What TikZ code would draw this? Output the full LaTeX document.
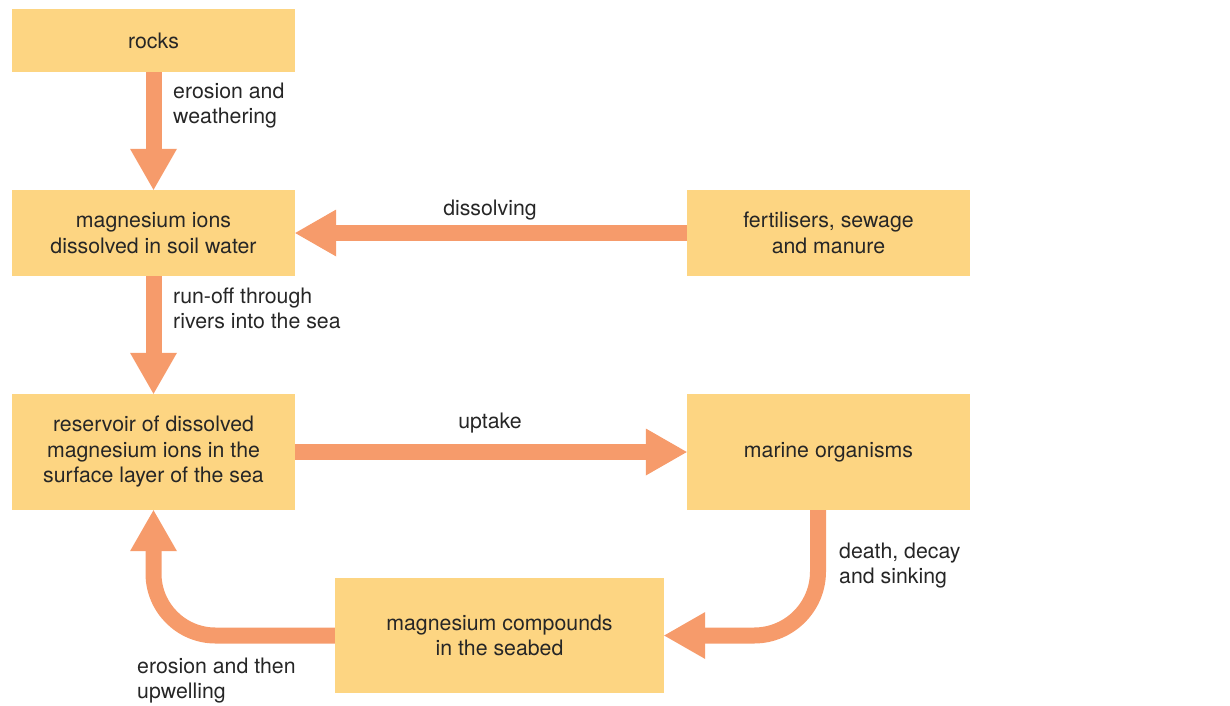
\documentclass[tikz,border=0pt]{standalone}
\usepackage{fontspec}
\setmainfont{TeX Gyre Heros}
\definecolor{boxfill}{HTML}{FDD582}
\definecolor{flow}{HTML}{F69B6B}
\definecolor{ink}{HTML}{262626}
% arrow heads: tip at the given point, 47 wide, 41 long
\newcommand{\tipdown}[1]{\fill[headfill] (#1) -- ++(-23.5pt,41pt) -- ++(47pt,0pt) -- cycle;}
\newcommand{\tipup}[1]{\fill[headfill] (#1) -- ++(-23.5pt,-41pt) -- ++(47pt,0pt) -- cycle;}
\newcommand{\tipleft}[1]{\fill[headfill] (#1) -- ++(41pt,23.5pt) -- ++(0pt,-47pt) -- cycle;}
\newcommand{\tipright}[1]{\fill[headfill] (#1) -- ++(-41pt,23.5pt) -- ++(0pt,-47pt) -- cycle;}
\begin{document}
\begin{tikzpicture}[x=1pt,y=-1pt,
  every node/.style={text=ink,font=\fontsize{21.3}{25.5}\selectfont},
  box/.style={fill=boxfill,draw=none,align=center,inner sep=0pt,minimum width=283pt},
  shaft/.style={draw=flow,line width=16pt},
  headfill/.style={fill=flow},
  lbl/.style={align=left,inner sep=0pt,anchor=north west}]
\useasboundingbox (0,0) rectangle (1230,705);

% stores
\node[box,minimum height=63pt]  (rocks)  at (153.5,40.5) {rocks};
\node[box,minimum height=86pt]  (mag)    at (153.5,233)  {magnesium ions\\dissolved in soil water};
\node[box,minimum height=86pt]  (fert)   at (828.5,233)  {fertilisers, sewage\\and manure};
\node[box,minimum height=116pt] (res)    at (153.5,452)  {reservoir of dissolved\\magnesium ions in the\\surface layer of the sea};
\node[box,minimum height=116pt] (marine) at (828.5,452)  {marine organisms};
\node[box,minimum width=329pt,minimum height=115pt] (seabed) at (499.5,635.5) {magnesium compounds\\in the seabed};

% flows
\draw[shaft] (rocks.south) -- ([yshift=39pt]mag.north);
\tipdown{mag.north}
\draw[shaft] (mag.south) -- ([yshift=39pt]res.north);
\tipdown{res.north}
\draw[shaft] (fert.west) -- ([xshift=39pt]mag.east);
\tipleft{mag.east}
\draw[shaft] (res.east) -- ([xshift=-39pt]marine.west);
\tipright{marine.west}
\draw[shaft,rounded corners=64pt] ([xshift=-10.5pt]marine.south) |- ([xshift=39pt]seabed.east);
\tipleft{seabed.east}
\draw[shaft,rounded corners=62pt] (seabed.west) -| ([yshift=-39pt]res.south);
\tipup{res.south}

% flow labels
\node[lbl] (l1) at (173,82.5)  {erosion and\\weathering};
\node[lbl] (l2) at (173,287.5) {run-off through\\rivers into the sea};
\node[inner sep=0pt,anchor=base] (l3) at (490,215) {dissolving};
\node[inner sep=0pt,anchor=base] (l4) at (490,428.5) {uptake};
\node[lbl] (l5) at (839,542.5) {death, decay\\and sinking};
\node[lbl] (l6) at (137,657.5) {erosion and then\\upwelling};
\end{tikzpicture}
\end{document}
